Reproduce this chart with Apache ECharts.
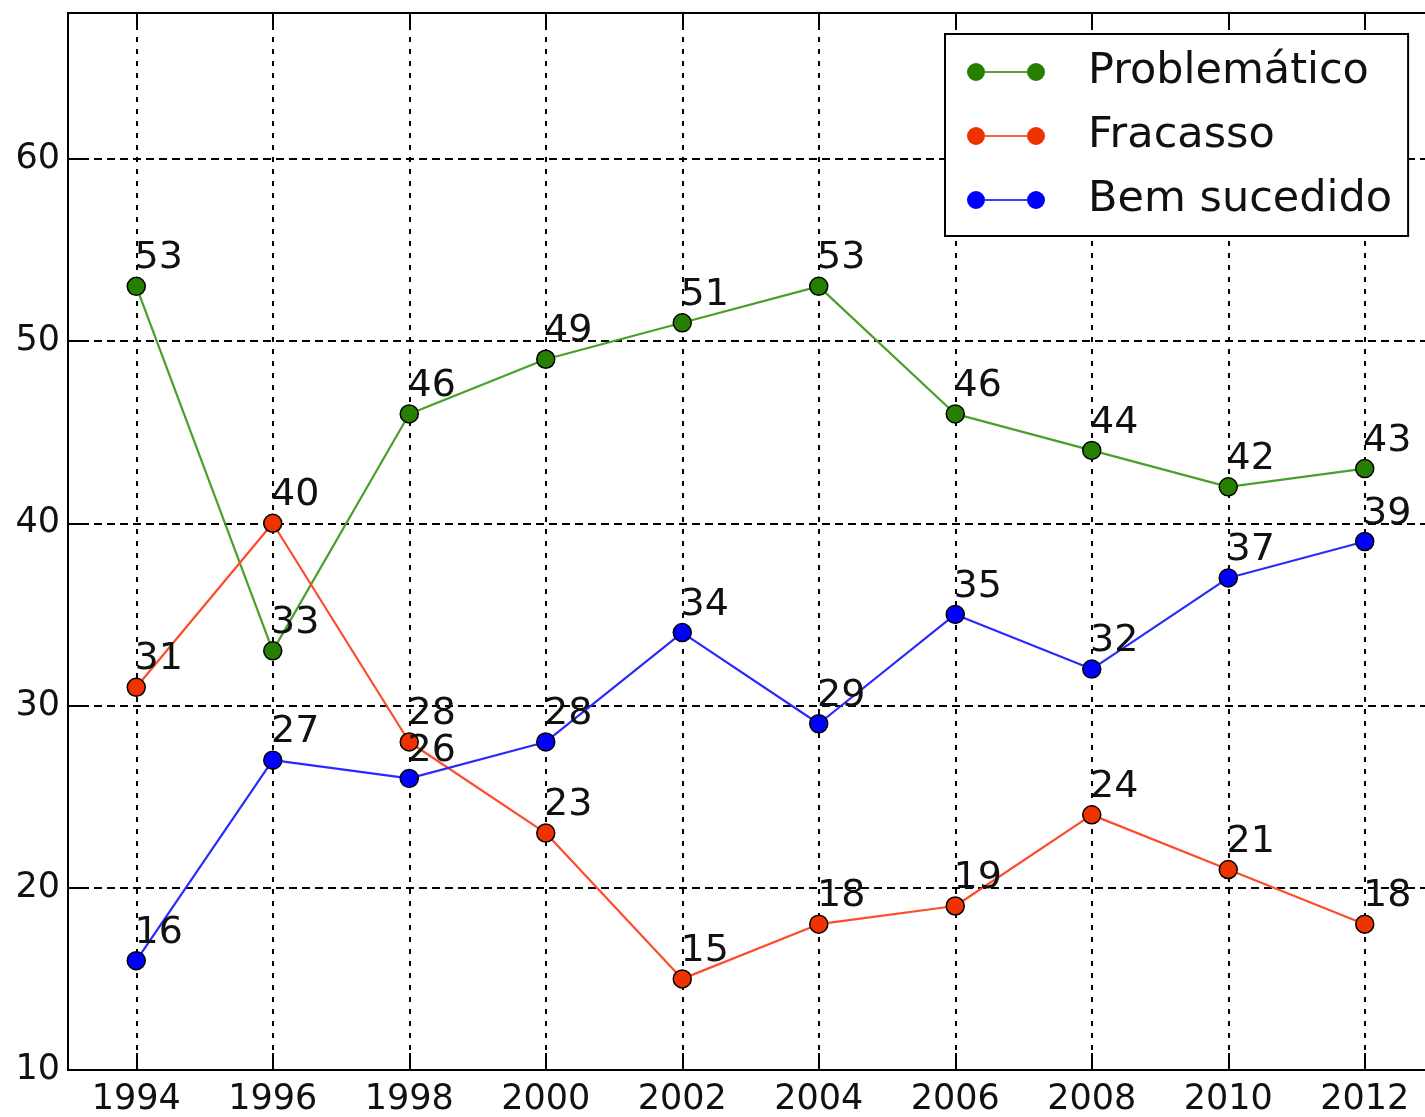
<!DOCTYPE html>
<html>
<head>
<meta charset="utf-8">
<script src="https://cdn.jsdelivr.net/npm/echarts@6/dist/echarts.min.js"></script>
<style>
  html, body { margin: 0; padding: 0; background: #fff; overflow: hidden; }
  /* the original figure is cut at its right edge, so the canvas runs past the window */
  #chart { width: 1440px; height: 1117px; }
</style>
</head>
<body>
<div id="chart"></div>
<script>
const years = [1994, 1996, 1998, 2000, 2002, 2004, 2006, 2008, 2010, 2012];
const problematico = [53, 33, 46, 49, 51, 53, 46, 44, 42, 43];
const fracasso = [31, 40, 28, 23, 15, 18, 19, 24, 21, 18];
const bemSucedido = [16, 27, 26, 28, 34, 29, 35, 32, 37, 39];
const yTicks = [10, 20, 30, 40, 50, 60];

// axis runs one year past the first and last point, like the original
const axisYears = [];
for (let y = years[0] - 1; y <= years[years.length - 1] + 1; y++) axisYears.push(String(y));
const isShown = (i, v) => years.includes(Number(v));

const font = 'DejaVu Sans';
const legendIcon = 'path://M0,9a9,9 0 1,0 18,0a9,9 0 1,0 -18,0Z M60,9a9,9 0 1,0 18,0a9,9 0 1,0 -18,0Z M18,8.2H60V9.8H18Z';

function makeSeries(name, values, dot, line) {
  return {
    name: name,
    type: 'line',
    data: years.map((y, i) => [String(y), values[i]]),
    symbol: 'circle',
    symbolSize: 18,
    itemStyle: { color: dot, borderColor: '#000', borderWidth: 1.5 },
    lineStyle: { color: line, width: 2.2 },
    label: {
      show: true,
      position: [8, -37],
      color: '#111',
      fontFamily: font,
      fontSize: 38
    },
    emphasis: { disabled: true },
    animation: false
  };
}

const chart = echarts.init(document.getElementById('chart'), null, { renderer: 'canvas' });
chart.setOption({
  backgroundColor: '#fff',
  animation: false,
  grid: {
    left: 68, top: 13, right: 7, bottom: 47,
    show: true, borderColor: '#000', borderWidth: 2, backgroundColor: 'transparent'
  },
  legend: {
    left: 945, top: 34,
    orient: 'vertical',
    padding: [16, 16, 14, 22],
    itemGap: 20,
    itemWidth: 78, itemHeight: 18,
    icon: legendIcon,
    itemStyle: { borderWidth: 0 },
    backgroundColor: '#fff',
    borderColor: '#000', borderWidth: 2, borderRadius: 0,
    textStyle: { fontFamily: font, fontSize: 43, color: '#111', lineHeight: 44, padding: [0, 0, 0, 38] },
    selectedMode: false
  },
  xAxis: [{
    type: 'category',
    data: axisYears,
    boundaryGap: false,
    axisLine: { show: true, lineStyle: { color: '#000', width: 2 } },
    axisTick: { show: true, inside: true, length: 17, interval: isShown, lineStyle: { color: '#000', width: 2 } },
    axisLabel: { interval: isShown, margin: 12, color: '#111', fontFamily: font, fontSize: 35 },
    splitLine: { show: true, interval: isShown, lineStyle: { color: '#000', width: 2, type: [5, 7] } }
  }, {
    type: 'category',
    data: axisYears,
    position: 'top',
    boundaryGap: false,
    axisLine: { show: true, lineStyle: { color: '#000', width: 2 } },
    axisTick: { show: true, inside: true, length: 17, interval: isShown, lineStyle: { color: '#000', width: 2 } },
    axisLabel: { show: false },
    splitLine: { show: false }
  }],
  yAxis: {
    type: 'value',
    min: yTicks[0], max: 68, interval: 10,
    axisLine: { show: true, lineStyle: { color: '#000', width: 2 } },
    axisTick: { show: true, inside: true, length: 17, lineStyle: { color: '#000', width: 2 } },
    axisLabel: { showMaxLabel: false, margin: 8, color: '#111', fontFamily: font, fontSize: 35 },
    splitLine: { show: true, showMaxLine: false, lineStyle: { color: '#000', width: 2, type: [8, 5] } }
  },
  series: [
    makeSeries('Problemático', problematico, '#267f00', '#48a02a'),
    makeSeries('Fracasso', fracasso, '#ee3300', '#ff4b2b'),
    makeSeries('Bem sucedido', bemSucedido, '#0000ff', '#2a2aff')
  ]
});
</script>
</body>
</html>
